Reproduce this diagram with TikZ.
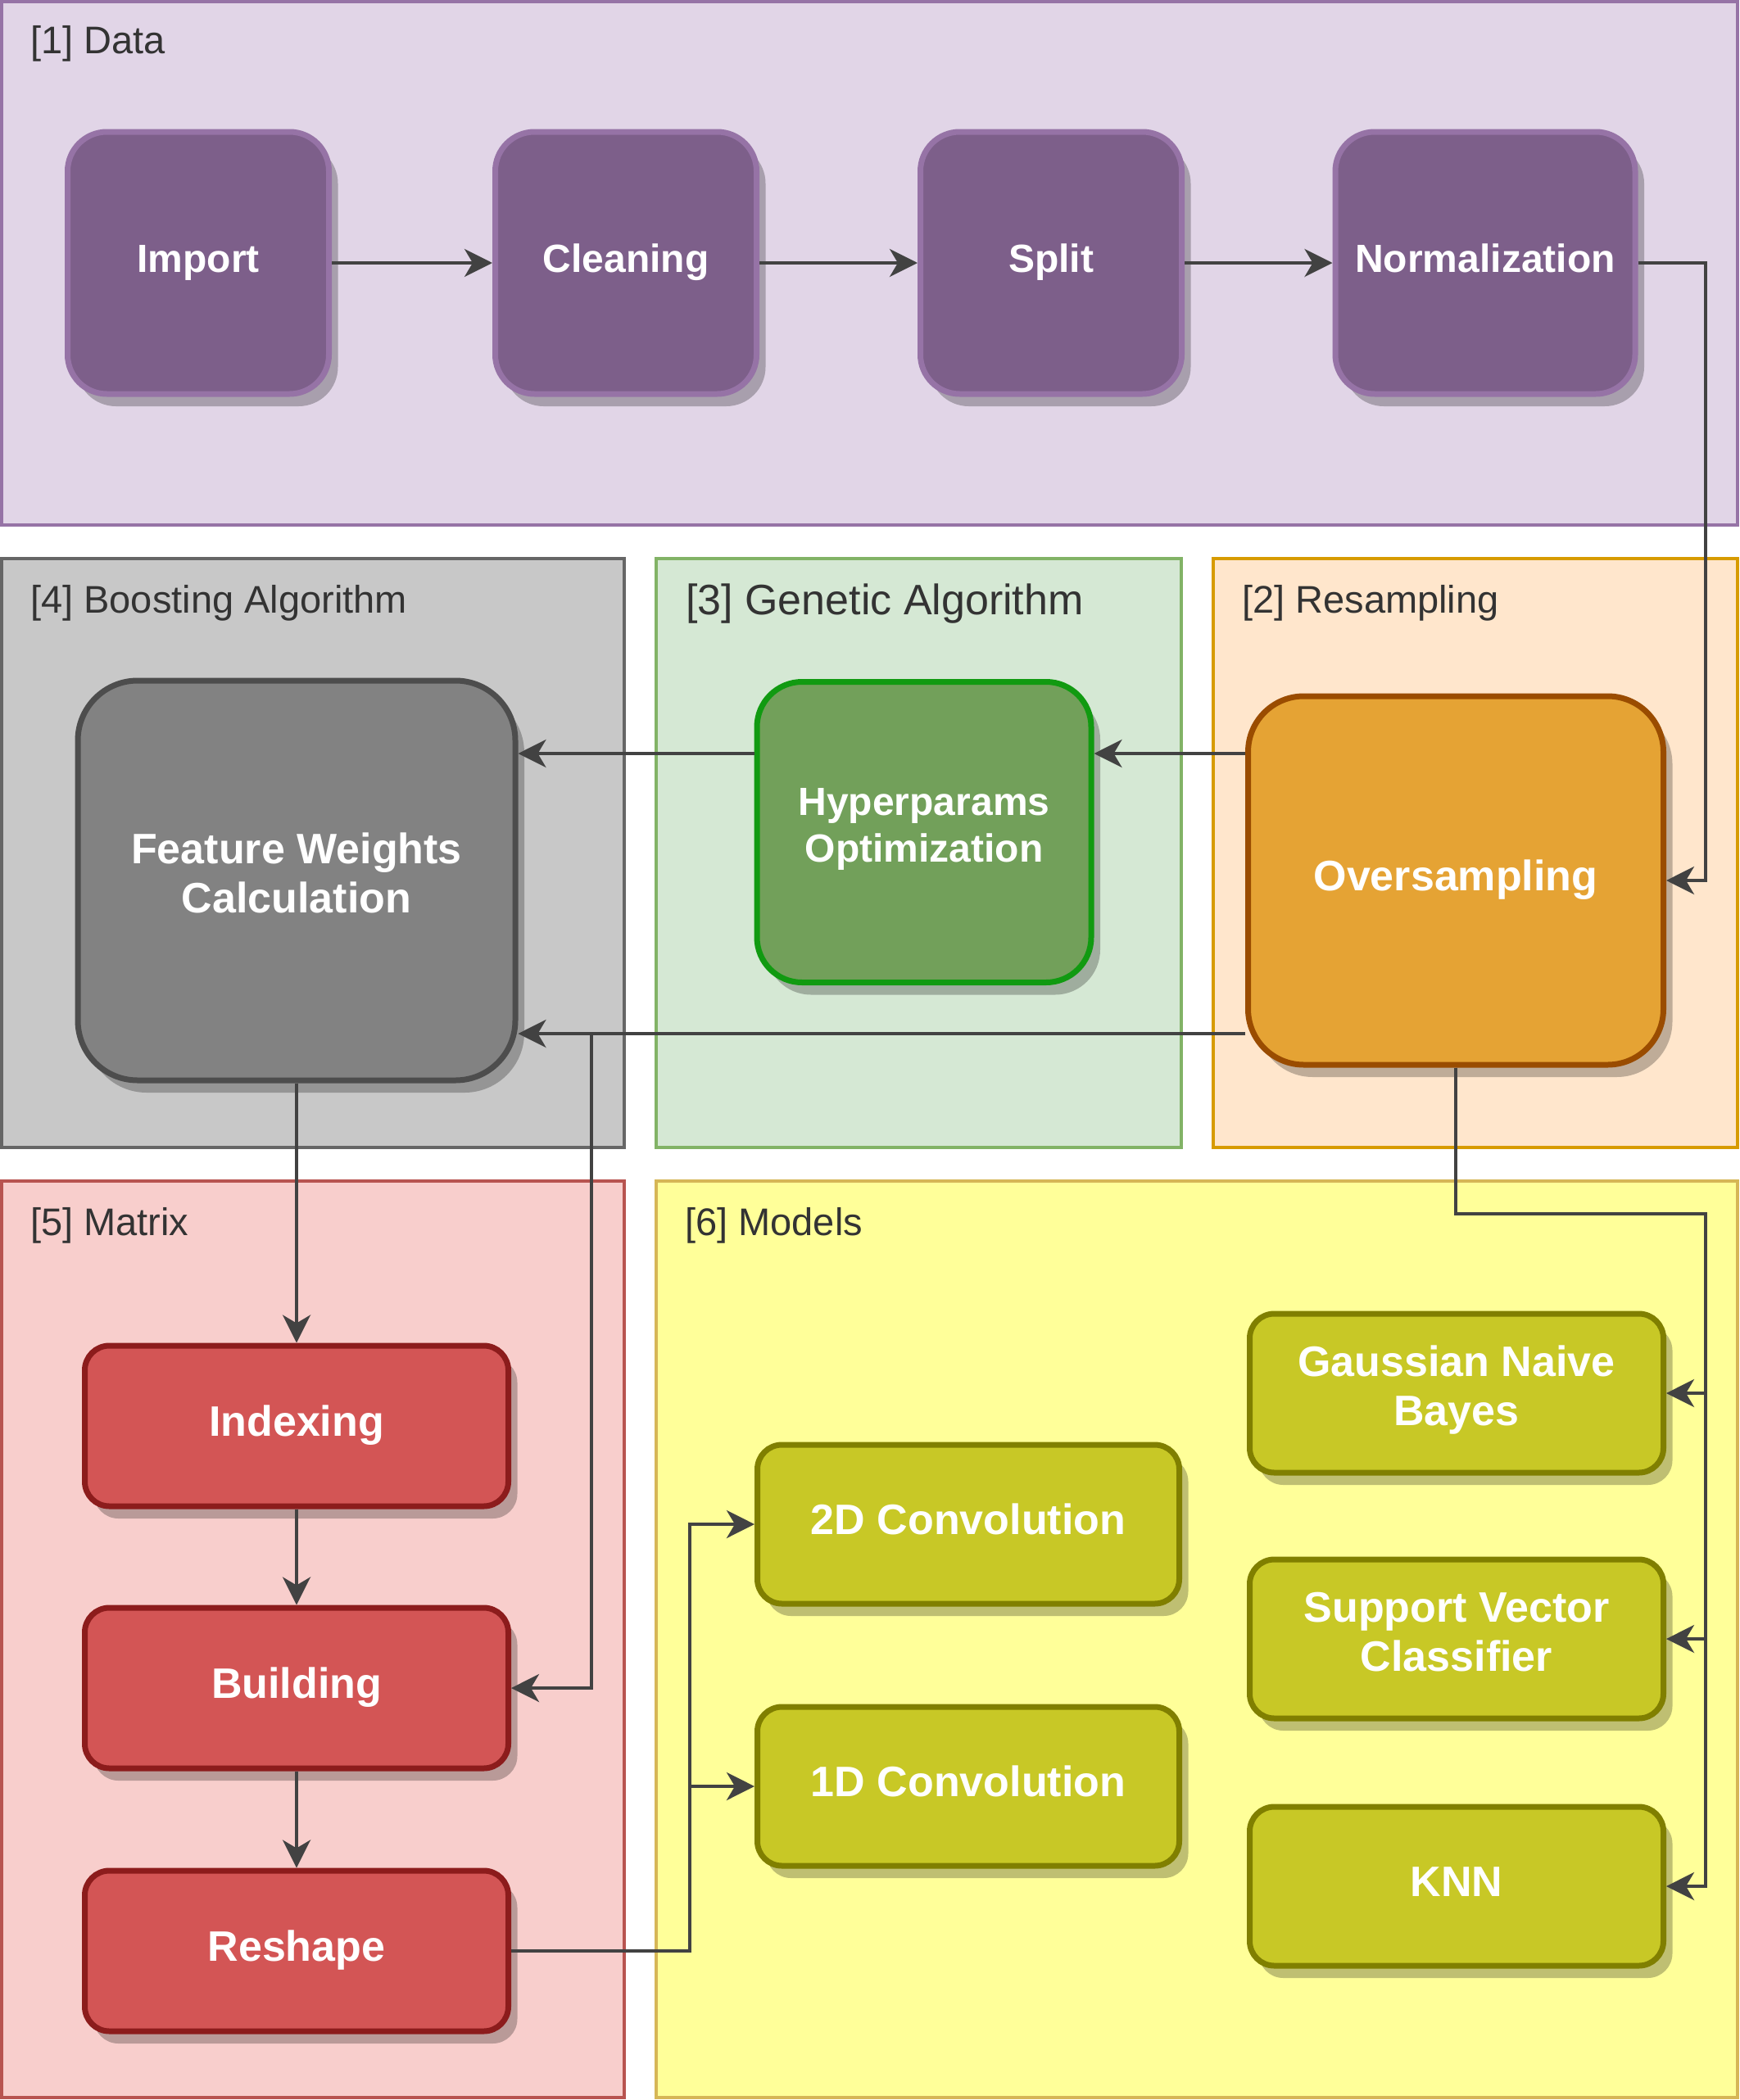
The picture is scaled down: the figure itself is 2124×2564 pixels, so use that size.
\documentclass[tikz,border=0pt]{standalone}
\usepackage{fontspec}
\setmainfont{Liberation Sans}
\usetikzlibrary{arrows.meta,shadows,calc}
\definecolor{datafill}{HTML}{E1D5E7}\definecolor{datadraw}{HTML}{9673A6}
\definecolor{boostfill}{HTML}{C8C8C8}\definecolor{boostdraw}{HTML}{666666}
\definecolor{genfill}{HTML}{D5E8D4}\definecolor{gendraw}{HTML}{82B366}
\definecolor{resfill}{HTML}{FFE6CC}\definecolor{resdraw}{HTML}{D79B00}
\definecolor{matfill}{HTML}{F8CECC}\definecolor{matdraw}{HTML}{B85450}
\definecolor{modfill}{HTML}{FFFF99}\definecolor{moddraw}{HTML}{D6B656}
\definecolor{purfill}{HTML}{7D5F8A}\definecolor{purdraw}{HTML}{9673A6}
\definecolor{fwfill}{HTML}{828282}\definecolor{fwdraw}{HTML}{4D4D4D}
\definecolor{hypfill}{HTML}{72A05A}\definecolor{hypdraw}{HTML}{119A11}
\definecolor{osfill}{HTML}{E5A334}\definecolor{osdraw}{HTML}{9A4C00}
\definecolor{redfill}{HTML}{D35555}\definecolor{reddraw}{HTML}{8C1C1C}
\definecolor{olfill}{HTML}{C8C826}\definecolor{oldraw}{HTML}{807F00}
\definecolor{edgecol}{HTML}{424242}
\definecolor{labcol}{HTML}{333333}
\begin{document}
\begin{tikzpicture}[x=1pt,y=-1pt,
  cont/.style={line width=4pt},
  lab/.style={anchor=base west, inner sep=0pt, text=labcol, font=\fontsize{47}{56}\selectfont},
  box/.style={draw, line width=7pt, align=center, text=white, inner sep=0pt,
    font=\bfseries\fontsize{48}{57}\selectfont,
    execute at begin node=\strut, execute at end node=\strut,
    drop shadow={shadow xshift=11pt, shadow yshift=-15pt, opacity=0.25, fill=black}},
  bigfont/.style={font=\bfseries\fontsize{52}{60}\selectfont},
  purbox/.style={box, fill=purfill, draw=purdraw, rounded corners=48pt, minimum height=320pt},
  redbox/.style={box, bigfont, fill=redfill, draw=reddraw, rounded corners=30pt, minimum width=517pt, minimum height=196pt},
  olbox/.style={box, bigfont, fill=olfill, draw=oldraw, rounded corners=30pt, minimum height=194pt},
  edge/.style={draw=edgecol, line width=4pt, -{Stealth[length=34pt, width=34pt, inset=10pt]}}
]
\useasboundingbox (0,0) rectangle (2124,2564);

% containers
\draw[cont, fill=datafill, draw=datadraw] (2,2) rectangle (2121,641);
\draw[cont, fill=boostfill, draw=boostdraw] (2,682) rectangle (762,1401);
\draw[cont, fill=genfill, draw=gendraw] (801,682) rectangle (1442,1401);
\draw[cont, fill=resfill, draw=resdraw] (1481,682) rectangle (2121,1401);
\draw[cont, fill=matfill, draw=matdraw] (2,1442) rectangle (762,2561);
\draw[cont, fill=modfill, draw=moddraw] (801,1442) rectangle (2121,2561);

\node[lab] (l1) at (37,66) {[1] Data};
\node[lab] (l4) at (37,748) {[4] Boosting Algorithm};
\node[lab, font=\fontsize{52}{60}\selectfont] (l3) at (837,750) {[3] Genetic Algorithm};
\node[lab] (l2) at (1516,748) {[2] Resampling};
\node[lab] (l5) at (37,1508) {[5] Matrix};
\node[lab] (l6) at (836,1508) {[6] Models};

% data row
\node[purbox, minimum width=319pt] (imp) at (242,321) {Import};
\node[purbox, minimum width=319pt] (cln) at (764,321) {Cleaning};
\node[purbox, minimum width=319pt] (spl) at (1283,321) {Split};
\node[purbox, minimum width=366pt] (nrm) at (1813,321) {Normalization};

% middle row
\node[box, bigfont, fill=fwfill, draw=fwdraw, rounded corners=73pt, minimum width=534pt, minimum height=488pt] (fw) at (362,1075) {Feature Weights\\Calculation};
\node[box, fill=hypfill, draw=hypdraw, rounded corners=55pt, minimum width=408pt, minimum height=367pt] (hyp) at (1128,1016) {Hyperparams\\Optimization};
\node[box, bigfont, fill=osfill, draw=osdraw, rounded corners=68pt, minimum width=507pt, minimum height=450pt] (os) at (1777,1075) {Oversampling};

% matrix
\node[redbox] (idx) at (362,1741) {Indexing};
\node[redbox] (bld) at (362,2061) {Building};
\node[redbox] (rsh) at (362,2382) {Reshape};

% models
\node[olbox, minimum width=515pt] (c2d) at (1182,1861) {2D Convolution};
\node[olbox, minimum width=515pt] (c1d) at (1182,2181) {1D Convolution};
\node[olbox, minimum width=505pt] (gnb) at (1778,1701) {Gaussian Naive\\Bayes};
\node[olbox, minimum width=505pt] (svc) at (1778,2001) {Support Vector\\Classifier};
\node[olbox, minimum width=505pt] (knn) at (1778,2303) {KNN};

% helper coordinates
\coordinate (xr) at (2082,0);
\coordinate (yh) at (0,920);
\coordinate (yl) at (0,1262);
\coordinate (xb) at (722,0);
\coordinate (xc) at (842,0);
\coordinate (ym) at (0,1482);

% edges
\draw[edge] (imp.east) -- (cln.west);
\draw[edge] (cln.east) -- (spl.west);
\draw[edge] (spl.east) -- (nrm.west);
\draw[edge] (nrm.east) -- (xr |- nrm.east) -- (xr |- os.east) -- (os.east);
\draw[edge] (os.west |- yh) -- (hyp.east |- yh);
\draw[edge] (hyp.west |- yh) -- (fw.east |- yh);
\draw[edge] (os.west |- yl) -- (fw.east |- yl);
\draw[edge] (os.west |- yl) -- (xb |- yl) -- (xb |- bld.east) -- (bld.east);
\draw[edge] (fw.south) -- (idx.north);
\draw[edge] (idx.south) -- (bld.north);
\draw[edge] (bld.south) -- (rsh.north);
\draw[edge] (rsh.east) -- (xc |- rsh.east) -- (xc |- c2d.west) -- (c2d.west);
\draw[edge] (rsh.east) -- (xc |- rsh.east) -- (xc |- c1d.west) -- (c1d.west);
\draw[edge] (os.south) -- (os.south |- ym) -- (xr |- ym) -- (xr |- gnb.east) -- (gnb.east);
\draw[edge] (os.south) -- (os.south |- ym) -- (xr |- ym) -- (xr |- svc.east) -- (svc.east);
\draw[edge] (os.south) -- (os.south |- ym) -- (xr |- ym) -- (xr |- knn.east) -- (knn.east);
\end{tikzpicture}
\end{document}
